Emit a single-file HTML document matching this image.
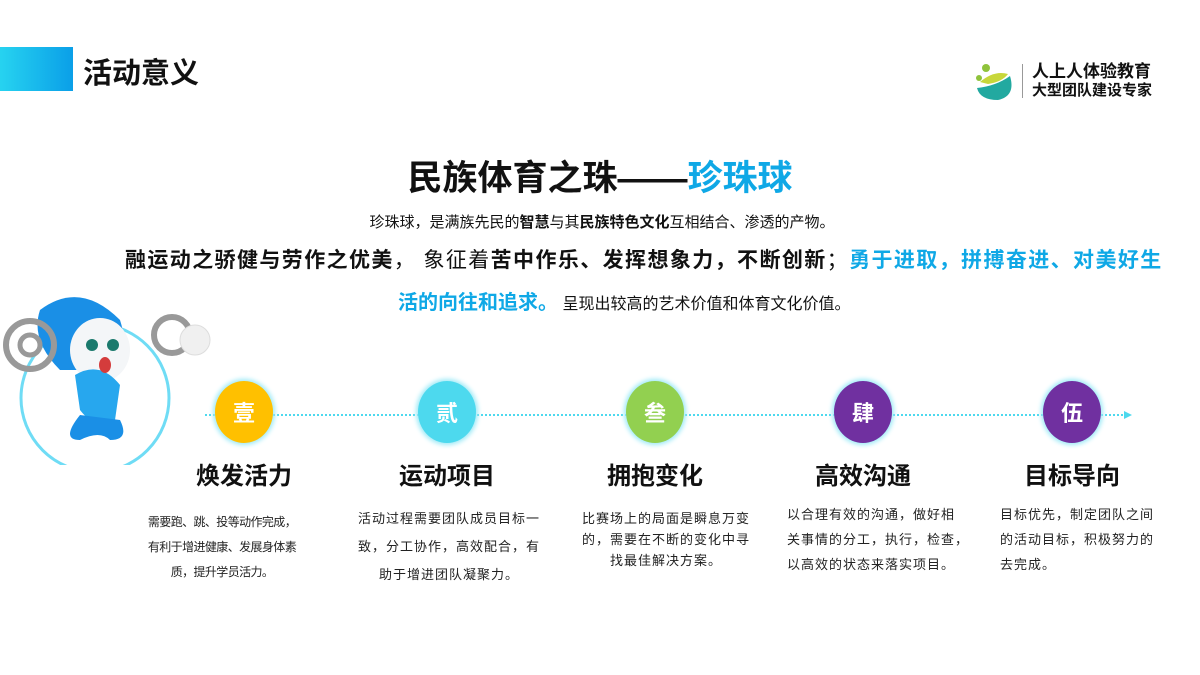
<!DOCTYPE html>
<html><head><meta charset="utf-8"><style>
body{margin:0;width:1200px;height:675px;background:#fff;position:relative;overflow:hidden;font-family:"Liberation Sans","Noto Sans CJK SC",sans-serif;color:#111}
.a{position:absolute}
.c{position:absolute;width:58px;height:62px;border-radius:50%;color:#fff;font-weight:bold;font-size:22px;display:flex;align-items:center;justify-content:center;box-shadow:0 0 5px 2px #9eeaf7}
.t{position:absolute;width:200px;text-align:center;font-size:24px;font-weight:bold;top:456px}
.d{position:absolute;font-size:13px;letter-spacing:1px;line-height:25px;color:#222;white-space:nowrap}
</style></head><body>
<div class="a" style="left:0;top:47px;width:73px;height:44px;background:linear-gradient(90deg,#27d3f0,#0a9fe8)"></div>
<div class="a" style="left:83px;top:50px;font-size:29px;font-weight:bold">活动意义</div>
<svg class="a" style="left:972px;top:60px" width="46" height="44"><circle cx="14" cy="8" r="4" fill="#8fc33b"/><circle cx="7" cy="18" r="3" fill="#8fc33b"/><path d="M8 22 Q22 10 36 14 Q30 22 16 24Z" fill="#c8d73a"/><path d="M5 28 Q24 26 38 16 Q44 36 26 40 Q8 40 5 28Z" fill="#22a9a0"/></svg>
<div class="a" style="left:1022px;top:64px;width:1px;height:34px;background:#999"></div>
<div class="a" style="left:1032px;top:62px;font-size:17px;font-weight:bold;line-height:20px">人上人体验教育</div>
<div class="a" style="left:1032px;top:82px;font-size:15px;font-weight:bold;line-height:18px">大型团队建设专家</div>
<div class="a" style="left:0;width:1200px;top:150px;text-align:center;font-size:35px;font-weight:bold">民族体育之珠——<span style="color:#0fa8e6">珍珠球</span></div>
<div class="a" style="left:0;width:1200px;top:211px;text-align:center;font-size:15px;padding-left:2px">珍珠球，是满族先民的<b>智慧</b>与其<b>民族特色文化</b>互相结合、渗透的产物。</div>
<div class="a" style="left:125px;top:244px;font-size:21px;letter-spacing:1.4px;white-space:nowrap"><b>融运动之骄健与劳作之优美</b>， 象征着<b>苦中作乐、发挥想象力，不断创新</b>；<b style="color:#0fa8e6">勇于进取，拼搏奋进、对美好生</b></div>
<div class="a" style="left:398px;top:286px;font-size:20px;white-space:nowrap"><b style="color:#0fa8e6">活的向往和追求。</b><span style="font-size:16px"> 呈现出较高的艺术价值和体育文化价值。</span></div>
<svg class="a" style="left:0;top:290px" width="220" height="175">
<circle cx="95" cy="108" r="74" fill="none" stroke="#6fdcf5" stroke-width="3"/>
<path d="M40 20 Q80 -10 120 30 Q130 60 110 80 L60 80 Q30 50 40 20Z" fill="#1a8fe6"/>
<ellipse cx="100" cy="60" rx="30" ry="32" fill="#f4f6f8"/>
<path d="M75 85 Q100 70 120 95 L115 130 Q95 140 80 120Z" fill="#27a7ee"/>
<path d="M80 125 Q60 150 80 150 Q100 140 110 150 Q130 150 120 130Z" fill="#1a8fe6"/>
<circle cx="30" cy="55" r="24" fill="none" stroke="#999" stroke-width="6"/><circle cx="30" cy="55" r="10" fill="none" stroke="#999" stroke-width="5"/>
<circle cx="172" cy="45" r="18" fill="none" stroke="#999" stroke-width="6"/>
<circle cx="195" cy="50" r="15" fill="#f0f0f0" stroke="#ddd"/>
<circle cx="92" cy="55" r="6" fill="#1b7a6d"/><circle cx="113" cy="55" r="6" fill="#1b7a6d"/><ellipse cx="105" cy="75" rx="6" ry="8" fill="#d43c3c"/>
</svg>
<svg class="a" style="left:0;top:400px" width="1200" height="30"><line x1="205" y1="15" x2="1125" y2="15" stroke="#4dd9ee" stroke-width="2" stroke-dasharray="2,2"/><path d="M1124 11 L1132 15 L1124 19Z" fill="#4dd9ee"/></svg>
<div class="c" style="left:215px;top:381px;background:#ffc000">壹</div>
<div class="c" style="left:418px;top:381px;background:#4dd9ee">贰</div>
<div class="c" style="left:626px;top:381px;background:#92d050">叁</div>
<div class="c" style="left:834px;top:381px;background:#7030a0">肆</div>
<div class="c" style="left:1043px;top:381px;background:#7030a0">伍</div>
<div class="t" style="left:144px">焕发活力</div>
<div class="t" style="left:347px">运动项目</div>
<div class="t" style="left:555px">拥抱变化</div>
<div class="t" style="left:763px">高效沟通</div>
<div class="t" style="left:972px">目标导向</div>
<div class="d" style="left:144px;top:510px;width:156px;text-align:center;font-size:12px;letter-spacing:-0.6px">需要跑、跳、投等动作完成，<br>有利于增进健康、发展身体素<br>质，提升学员活力。</div>
<div class="d" style="left:352px;top:505px;width:194px;text-align:center;line-height:28px">活动过程需要团队成员目标一<br>致，分工协作，高效配合，有<br>助于增进团队凝聚力。</div>
<div class="d" style="left:580px;top:508px;width:172px;text-align:center;line-height:21px">比赛场上的局面是瞬息万变<br>的，需要在不断的变化中寻<br>找最佳解决方案。</div>
<div class="d" style="left:787px;top:502px;width:170px;line-height:25px">以合理有效的沟通，做好相<br>关事情的分工，执行，检查，<br>以高效的状态来落实项目。</div>
<div class="d" style="left:1000px;top:502px;width:156px;line-height:25px">目标优先，制定团队之间<br>的活动目标，积极努力的<br>去完成。</div>
</body></html>
